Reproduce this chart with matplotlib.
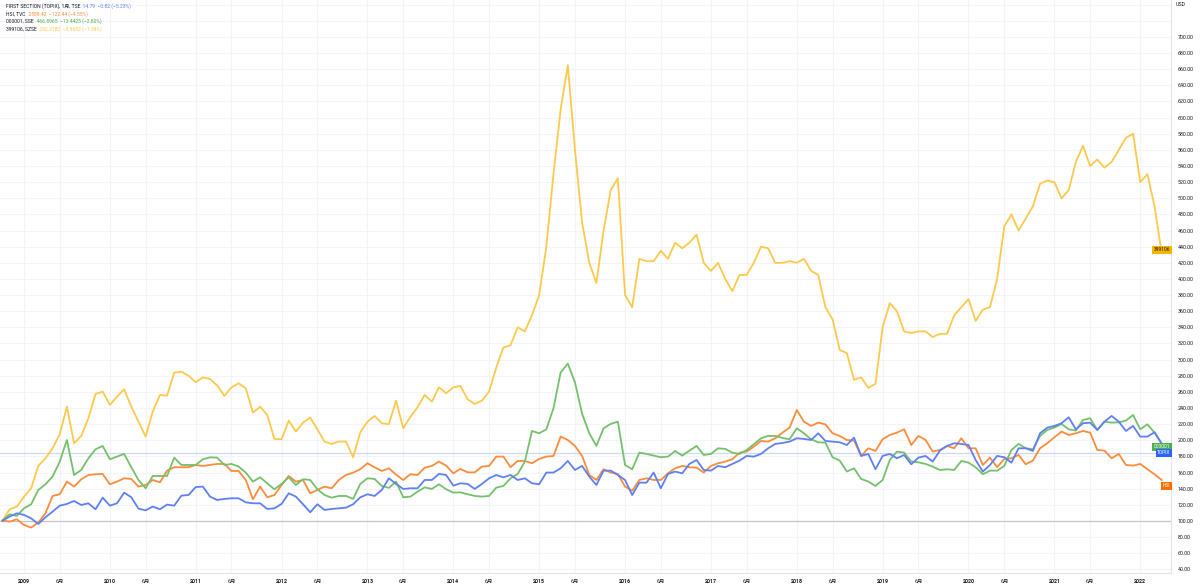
import matplotlib
matplotlib.use('Agg')
import matplotlib.pyplot as plt
import matplotlib.transforms as mtransforms
import numpy as np

plt.rcParams['font.family'] = ['Roboto', 'Noto Sans CJK JP', 'DejaVu Sans']

# monthly closes, Oct 2008 .. Apr 2022, rebased
years = [str(y) for y in range(2009, 2023)]

topix = [100.4, 105.4, 109.5, 107.5, 103.3, 96.3, 104.6, 111.6, 119.0, 121.1, 124.8, 119.8, 121.9, 114.5,
         128.9, 119.0, 121.9, 135.1, 129.4, 115.3, 113.2, 117.8, 114.5, 120.3, 119.0, 131.4, 132.2,
         142.0, 142.6, 130.2, 126.0, 127.3, 128.1, 128.1, 123.1, 121.9, 121.9, 114.9, 115.7, 121.1, 134.3,
         130.2, 120.7, 110.8, 120.7, 113.7, 114.9, 115.7, 116.5, 120.7, 129.3, 133.1, 131.0, 138.4, 152.9,
         145.9, 139.7, 140.5, 140.5, 150.8, 150.8, 158.3, 157.0, 143.8, 146.7, 145.9, 139.7, 145.9, 152.9,
         157.0, 154.1, 157.0, 150.8, 152.9, 146.7, 145.5, 160.0, 160.0, 165.3, 174.4, 163.2, 168.2,
         155.0, 144.6, 162.4, 162.4, 157.0, 150.8, 132.2, 147.5, 147.5, 160.0, 140.5, 158.3, 161.2, 159.1,
         170.7, 175.6, 163.2, 162.4, 168.2, 166.6, 170.7, 174.8, 180.6, 179.8, 183.1, 190.1, 195.5,
         196.7, 198.4, 202.5, 201.7, 200.4, 208.7, 199.2, 198.4, 197.5, 194.2, 203.3, 180.6, 183.1, 164.1,
         180.6, 183.1, 177.7, 181.8, 170.3, 178.5, 180.6, 173.6, 187.2, 193.0, 196.3, 195.5, 194.2,
         175.6, 161.2, 169.4, 180.6, 179.0, 172.3, 190.1, 190.1, 186.8, 208.7, 215.7, 217.8, 221.1, 228.5,
         213.6, 221.1, 221.9, 212.8, 223.1, 230.2, 223.1, 211.6, 217.8, 204.6, 204.6, 209.9, 195.5]

hsi = [100.4, 99.2, 102.1, 95.1, 91.8, 98.0, 109.5, 131.0, 133.1, 148.8, 142.6, 151.7, 157.0, 157.9,
       158.3, 145.5, 148.8, 152.9, 152.1, 142.6, 144.6, 150.8, 147.9, 162.4, 166.6, 166.6, 166.6,
       169.4, 168.2, 169.4, 170.7, 170.7, 162.0, 162.0, 150.8, 126.9, 142.6, 129.4, 132.2, 144.6, 155.8,
       148.8, 150.8, 134.3, 138.4, 142.6, 140.5, 150.8, 157.0, 159.9, 164.1, 171.5, 166.6, 162.0, 165.3,
       157.4, 150.8, 157.9, 157.0, 166.1, 168.2, 173.6, 168.6, 159.1, 164.5, 160.3, 160.3, 167.4, 168.2,
       179.8, 179.8, 166.6, 174.4, 174.4, 171.5, 176.9, 179.8, 180.6, 204.6, 200.4, 193.0, 180.6,
       157.0, 150.8, 164.1, 160.0, 158.3, 142.6, 137.6, 150.8, 152.9, 150.8, 150.8, 159.1, 165.3, 168.2,
       166.6, 166.1, 160.0, 168.2, 171.5, 173.6, 176.5, 184.7, 186.0, 192.2, 199.2, 198.4, 202.5,
       209.5, 215.7, 237.6, 223.1, 217.8, 221.9, 219.8, 208.7, 205.4, 200.4, 199.6, 180.6, 190.1, 186.8,
       201.3, 206.6, 209.5, 213.6, 194.2, 205.4, 200.4, 186.0, 188.0, 193.0, 190.1, 202.5, 190.1,
       190.1, 169.4, 178.5, 166.6, 176.9, 177.7, 181.8, 170.3, 174.8, 190.1, 196.3, 203.7, 210.8, 206.6,
       208.7, 211.6, 209.5, 188.0, 187.2, 177.7, 183.1, 169.4, 168.6, 170.7, 164.1, 157.9, 150.8]

sse = [100.4, 108.3, 106.2, 115.7, 120.7, 138.4, 145.5, 155.0, 173.6, 200.4, 157.0, 163.2, 177.7, 188.9,
       193.0, 176.5, 179.8, 183.1, 166.6, 150.8, 140.5, 155.8, 155.8, 155.8, 178.5, 169.4, 169.4,
       169.4, 176.5, 178.9, 178.5, 169.4, 170.7, 167.4, 159.9, 148.8, 154.1, 146.7, 139.3, 145.9, 154.1,
       144.6, 151.7, 150.8, 139.3, 132.2, 128.9, 131.0, 131.0, 127.3, 145.9, 152.9, 152.1, 143.4, 141.0,
       148.8, 129.4, 130.2, 136.3, 141.7, 139.7, 145.5, 139.3, 135.1, 135.5, 133.1, 131.0, 130.2, 131.0,
       141.3, 143.4, 152.9, 158.3, 173.6, 211.6, 208.7, 213.6, 239.7, 284.0, 295.0, 272.0, 233.0,
       208.7, 193.0, 214.9, 220.3, 223.1, 169.4, 164.1, 184.7, 183.1, 181.0, 179.0, 179.8, 186.8, 181.0,
       187.2, 193.0, 181.8, 183.1, 190.1, 189.3, 184.7, 183.1, 188.0, 195.1, 202.5, 205.4, 205.4,
       202.9, 201.3, 214.9, 208.7, 201.3, 197.5, 197.1, 179.0, 174.8, 161.2, 165.3, 152.1, 148.8, 143.4,
       150.8, 175.6, 186.0, 184.7, 173.6, 172.7, 170.7, 167.4, 163.2, 164.1, 163.2, 174.4, 172.3,
       166.6, 157.9, 162.4, 162.4, 168.2, 188.0, 195.5, 190.1, 188.9, 205.4, 212.8, 215.7, 220.3, 213.6,
       212.0, 225.2, 227.3, 212.8, 223.1, 221.9, 222.3, 224.4, 231.4, 213.6, 219.8, 209.5, 196.3]

szse = [100.4, 114.5, 117.8, 130.2, 140.5, 168.2, 177.7, 190.1, 207.5, 241.7, 196.3, 205.4, 227.3, 257.4,
        260.3, 243.8, 254.1, 263.2, 241.7, 223.1, 204.6, 235.5, 256.2, 255.4, 284.0, 285.0, 280.0,
        272.0, 278.0, 276.0, 268.0, 255.0, 265.7, 270.7, 264.5, 234.3, 241.7, 231.4, 201.7, 201.3, 224.4,
        210.8, 221.9, 228.1, 213.6, 198.4, 195.5, 198.4, 198.4, 178.9, 209.9, 223.1, 230.2, 221.1, 220.0,
        249.2, 214.9, 229.0, 240.9, 256.2, 247.9, 265.7, 258.3, 265.7, 267.4, 250.8, 245.0, 249.2, 260.3,
        290.0, 315.0, 318.0, 340.0, 335.0, 355.0, 380.0, 440.0, 530.0, 610.0, 665.0, 560.0, 470.0,
        420.0, 395.0, 460.0, 510.0, 525.0, 380.0, 365.0, 425.0, 422.0, 422.0, 435.0, 425.0, 445.0, 438.0,
        445.0, 455.0, 420.0, 410.0, 420.0, 400.0, 385.0, 405.0, 405.0, 420.0, 440.0, 438.0, 420.0,
        420.0, 422.0, 420.0, 425.0, 410.0, 405.0, 365.0, 350.0, 312.0, 308.0, 275.0, 278.0, 265.0, 270.0,
        340.0, 370.0, 360.0, 335.0, 333.0, 335.0, 335.0, 328.0, 332.0, 332.0, 355.0, 365.0, 375.0,
        348.0, 362.0, 365.0, 400.0, 465.0, 480.0, 460.0, 475.0, 490.0, 518.0, 522.0, 520.0, 500.0, 510.0,
        545.0, 565.0, 540.0, 548.0, 538.0, 545.0, 560.0, 575.0, 580.0, 520.0, 530.0, 490.0, 432.0]

series = [
    ('399106', szse, '#fdc94c', '#f7b500', '#131722'),
    ('HSI', hsi, '#fb8c3c', '#ff6d00', 'white'),
    ('000001', sse, '#74c06c', '#4caf50', 'white'),
    ('TOPIX', topix, '#5f80f2', '#2962ff', 'white'),
]

legend = [
    ('FIRST SECTION (TOPIX), 1月, TSE', '14.79  \u22120.82 (\u22125.23%)', '#5f80f2'),
    ('HSI, TVC', '2589.42  \u2212122.44 (\u22124.55%)', '#fb8c3c'),
    ('000001, SSE', '466.8965  \u221213.4425 (\u22122.80%)', '#4caf50'),
    ('399106, SZSE', '292.2182  \u22123.9682 (\u22121.34%)', '#fdc94c'),
]

W, H = 1200, 588
fig = plt.figure(figsize=(W / 100, H / 100), dpi=100)
ax = fig.add_axes([0, 1 - 573 / H, 1171 / W, 573 / H])

n = len(topix)
x = np.arange(n)
ax.set_xlim(-0.35, 163.3)
ax.set_ylim(35.5, 745.8)

grid_c = '#f2f4f9'
for v in range(40, 760, 20):
    ax.axhline(v, color=grid_c, lw=0.8, zorder=0)
year_pos = [3 + 12 * i for i in range(len(years))]
half_pos = [8 + 12 * i for i in range(len(years) - 1)]
for p in year_pos + half_pos:
    ax.axvline(p, color=grid_c, lw=0.8, zorder=0)

ax.axhline(100, color='#c3c5cb', lw=0.9, zorder=1)
ax.axhline(184, color='#cdd9f2', lw=0.9, zorder=1)

for name, vals, c, _, _ in series:
    ax.plot(x, vals, color=c, lw=1.3, zorder=3, solid_joinstyle='round')

# x axis ticks
ticks = sorted(year_pos + half_pos)
labels = []
for t in ticks:
    labels.append(years[(t - 3) // 12] if t in year_pos else '6月')
ax.set_xticks(ticks)
ax.set_xticklabels(labels, fontsize=3.8, color='#131722')
for t, lab in zip(ticks, ax.get_xticklabels()):
    if t in year_pos:
        lab.set_fontweight('bold')
ax.tick_params(axis='x', length=0, pad=4)

# y axis on the right
yt = list(range(40, 720, 20))
ax.yaxis.tick_right()
ax.set_yticks(yt)
ax.set_yticklabels([f'{v:.2f}' for v in yt], fontsize=3.8, color='#131722')
ax.tick_params(axis='y', length=0, pad=5)

for s in ['top', 'left']:
    ax.spines[s].set_visible(False)
for s in ['right', 'bottom']:
    ax.spines[s].set_color('#e0e3eb')
    ax.spines[s].set_linewidth(0.8)

fig.text(1176 / W, 1 - 5 / H, 'USD', fontsize=3.8, color='#131722', va='center', ha='left')

# end labels
trans = mtransforms.blended_transform_factory(ax.transAxes, ax.transData)
label_y = {'399106': 436, '000001': 192, 'TOPIX': 184.3, 'HSI': 143.4}
for name, vals, c, bg, fg in series:
    ax.text(0.9995, label_y[name], name, transform=trans, ha='right', va='center',
            fontsize=3.5, color=fg, zorder=6,
            bbox=dict(boxstyle='square,pad=0.3', fc=bg, ec='none'))

# legend text at top left
for i, (title, vals_txt, c) in enumerate(legend):
    ypx = 6 + 7.7 * i
    t1 = fig.text(6 / W, 1 - ypx / H, title, fontsize=3.6, color='#131722', va='center', ha='left')
    ax.annotate('  ' + vals_txt, xy=(1, 0.5), xycoords=t1, va='center', ha='left',
                fontsize=3.6, color=c, annotation_clip=False)

fig.savefig('out.png', dpi=100, facecolor='white')
